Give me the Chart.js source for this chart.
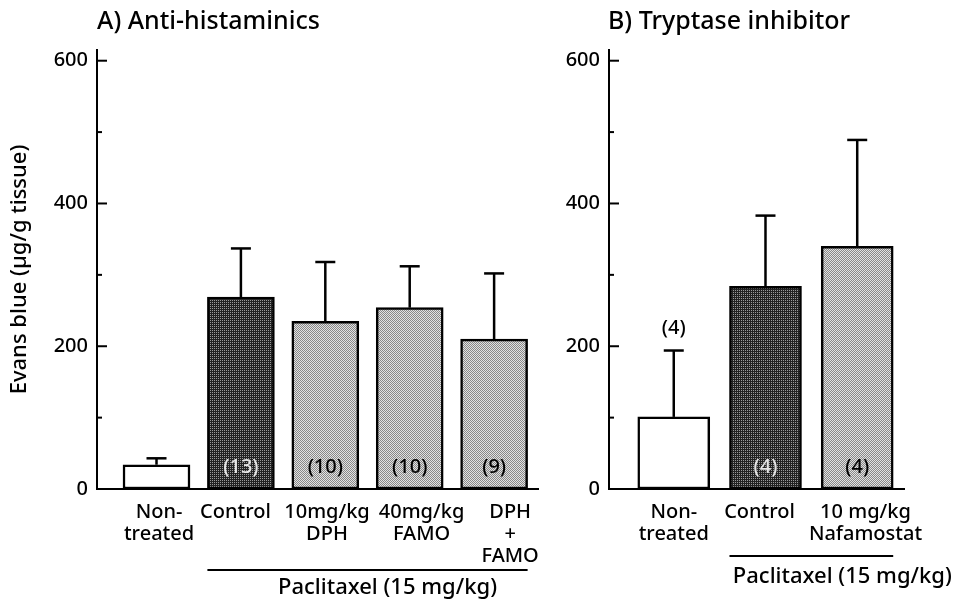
<!DOCTYPE html>
<html><head><meta charset="utf-8">
<script src="https://cdn.jsdelivr.net/npm/chart.js@4"></script>
<style>
html,body{margin:0;padding:0;background:#fff;}
#wrap{position:relative;width:954px;height:601px;overflow:hidden;}
#ca{position:absolute;left:0;top:0;}
#cb{position:absolute;left:545px;top:0;}
</style></head><body>
<div id="wrap">
<canvas id="ca" width="545" height="601"></canvas>
<canvas id="cb" width="409" height="601"></canvas>
</div>
<script>
// ---------- data ----------
const titleA = "A) Anti-histaminics";
const titleB = "B) Tryptase inhibitor";
const yTitle = "Evans blue (\u00b5g/g tissue)";
const bracketText = "Paclitaxel (15 mg/kg)";

const categoriesA = [["Non-","treated"],["Control"],["10mg/kg","DPH"],["40mg/kg","FAMO"],["DPH","+","FAMO"]];
const meansA = [34, 269, 235, 254, 210];
const errorsA = [9, 68, 83, 58, 92];
const countsA = [null, "(13)", "(10)", "(10)", "(9)"];

const categoriesB = [["Non-","treated"],["Control"],["10 mg/kg","Nafamostat"]];
const meansB = [101, 284, 340];
const errorsB = [93, 99, 149];
const countsB = ["(4)", "(4)", "(4)"];

const yMajorTicks = [0, 200, 400, 600];
const yMinorTicks = [100, 300, 500];

// ---------- styles ----------
const FONT = "'Noto Sans', 'DejaVu Sans', sans-serif";
const WEIGHT = 500;
function makePattern(base, dot, mode){
  const p = document.createElement('canvas'); p.width = 2; p.height = 2;
  const g = p.getContext('2d');
  g.fillStyle = base; g.fillRect(0,0,2,2);
  g.fillStyle = dot;
  if (mode === 'checker'){ g.fillRect(0,0,1,1); g.fillRect(1,1,1,1); }
  else { g.fillRect(0,0,1,1); }
  return g.createPattern(p, 'repeat');
}
const FILLS = {
  white: '#ffffff',
  dark: makePattern('#222222', '#9a9a9a', 'dot'),
  light: makePattern('#e2e2e2', '#888888', 'checker')
};
const fillKindsA = ['white','dark','light','light','light'];
const fillKindsB = ['white','dark','light'];
const countColor = {white:'#000', dark:'#e6e6e6', light:'#000'};
// small horizontal nudges of the category labels (fraction of a category step)
const labelNudgeA = [0.03, -0.065, 0.02, 0.14, 0.19];
const labelNudgeB = [0.0, -0.065, 0.09];

function line(ctx, x1, y1, x2, y2){ ctx.beginPath(); ctx.moveTo(x1,y1); ctx.lineTo(x2,y2); ctx.stroke(); }

const overlay = {
  id: 'overlay',
  afterDatasetsDraw(chart, args, o){
    const ctx = chart.ctx, ys = chart.scales.y;
    const meta = chart.getDatasetMeta(0);
    const ca = chart.chartArea;
    ctx.save();
    ctx.strokeStyle = '#000'; ctx.lineWidth = 2; ctx.lineCap = 'butt';
    // inward y ticks
    o.major.forEach(v => { const py = ys.getPixelForValue(v); line(ctx, ca.left, py, ca.left + 10, py); });
    o.minor.forEach(v => { const py = ys.getPixelForValue(v); line(ctx, ca.left, py, ca.left + 5, py); });
    // error bars (upper only)
    ctx.lineWidth = 2.5;
    o.means.forEach((m, i) => {
      const bar = meta.data[i];
      const top = ys.getPixelForValue(m + o.errors[i]);
      line(ctx, bar.x, bar.y, bar.x, top);
      line(ctx, bar.x - 10, top, bar.x + 10, top);
    });
    // counts
    ctx.font = WEIGHT + ' 20px ' + FONT; ctx.textAlign = 'center'; ctx.textBaseline = 'middle';
    o.counts.forEach((c, i) => {
      if (!c) return;
      const bar = meta.data[i];
      let py;
      if (o.countPlace[i] === 'above') py = ys.getPixelForValue(o.means[i] + o.errors[i]) - 22;
      else py = ys.getPixelForValue(0) - 22;
      ctx.fillStyle = o.countPlace[i] === 'above' ? '#000' : countColor[o.fills[i]];
      ctx.fillText(c, bar.x, py);
    });
    // title
    ctx.fillStyle = '#000';
    ctx.font = WEIGHT + ' 25px ' + FONT; ctx.textAlign = 'left'; ctx.textBaseline = 'middle';
    ctx.fillText(o.title, ca.left + o.titleDx, 22);
    // bracket
    const b0 = meta.data[o.bracket[0]], b1 = meta.data[o.bracket[1]];
    const lx = b0.x - b0.width/2, rx = b1.x + b1.width/2;
    ctx.lineWidth = 2;
    line(ctx, lx, o.bracketY, rx, o.bracketY);
    ctx.font = WEIGHT + ' 22px ' + FONT; ctx.textAlign = 'center';
    ctx.fillText(bracketText, (lx + rx)/2 + o.bracketTextDx, o.bracketTextY);
    ctx.restore();
  }
};

function makeChart(id, cats, means, errors, counts, countPlace, fillKinds, nudge, opt){
  const data = means.map((v, i) => ({x: i + 1, y: v}));
  return new Chart(document.getElementById(id), {
    type: 'bar',
    data: { datasets: [{
      data: data,
      backgroundColor: fillKinds.map(k => FILLS[k]),
      borderColor: '#000', borderWidth: 2.5, borderSkipped: false,
      barThickness: opt.barThickness
    }]},
    options: {
      responsive: false, animation: false, devicePixelRatio: 1,
      layout: { padding: { top: 50, right: opt.padRight, left: 0, bottom: 0 } },
      plugins: {
        legend: {display: false}, tooltip: {enabled: false}, title: {display: false},
        overlay: {
          major: yMajorTicks, minor: yMinorTicks, means, errors, counts, countPlace,
          fills: fillKinds, title: opt.title, titleDx: opt.titleDx,
          bracket: opt.bracket, bracketY: opt.bracketY, bracketTextY: opt.bracketTextY, bracketTextDx: opt.bracketTextDx
        }
      },
      scales: {
        x: {
          type: 'linear', min: opt.xmin, max: opt.xmax, offset: false,
          grid: {display: false, drawTicks: false},
          border: {display: true, color: '#000', width: 2},
          afterBuildTicks: s => { s.ticks = cats.map((c, i) => ({value: i + 1 + nudge[i]})); },
          afterFit: s => { s.height = 112; s.paddingLeft = 0; s.paddingRight = 0; },
          ticks: {
            autoSkip: false, maxRotation: 0, minRotation: 0, padding: 12, color: '#000',
            font: {family: FONT, size: 20, weight: WEIGHT, lineHeight: 1.1},
            callback: (v) => cats[Math.round(v) - 1] || ''
          }
        },
        y: {
          min: 0, max: 615,
          grid: {display: false, drawTicks: false},
          border: {display: true, color: '#000', width: 2},
          afterBuildTicks: s => { s.ticks = yMajorTicks.map(v => ({value: v})); },
          afterFit: s => { s.width = opt.yWidth; s.paddingTop = 0; s.paddingBottom = 0; },
          ticks: { padding: 9, color: '#000', font: {family: FONT, size: 20, weight: WEIGHT} },
          title: {
            display: !!opt.yTitle, text: opt.yTitle || '', color: '#000',
            font: {family: FONT, size: 22, weight: WEIGHT}, padding: {top: 7, bottom: 0}
          }
        }
      }
    },
    plugins: [overlay]
  });
}

makeChart('ca', categoriesA, meansA, errorsA, countsA, ['in','in','in','in','in'], fillKindsA, labelNudgeA, {
  barThickness: 67, padRight: 7, xmin: 0.295, xmax: 5.52, yWidth: 97, yTitle: yTitle,
  title: titleA, titleDx: 0, bracket: [1, 4], bracketY: 570, bracketTextY: 588, bracketTextDx: 20
});
makeChart('cb', categoriesB, meansB, errorsB, countsB, ['above','in','in'], fillKindsB, labelNudgeB, {
  barThickness: 72, padRight: 50, xmin: 0.294, xmax: 3.51, yWidth: 64, yTitle: null,
  title: titleB, titleDx: -1, bracket: [1, 2], bracketY: 556, bracketTextY: 577, bracketTextDx: 31
});
</script>
</body></html>
